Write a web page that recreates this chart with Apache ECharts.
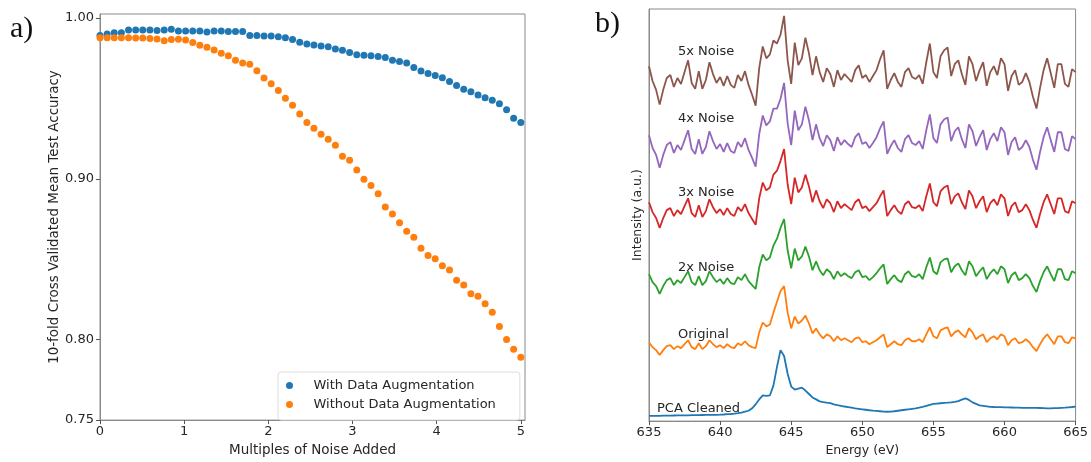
<!DOCTYPE html>
<html>
<head>
<meta charset="utf-8">
<script src="https://cdn.jsdelivr.net/npm/echarts@6/dist/echarts.min.js"></script>
<style>html,body{margin:0;padding:0;background:#fff;}#chart{width:1091px;height:462px;}</style>
</head>
<body>
<div id="chart"></div>
<script>
// ---------- panel a) ----------
const noiseMultiples = [0,0.085,0.169,0.254,0.339,0.424,0.508,0.593,0.678,0.763,0.847,0.932,1.017,1.102,1.186,1.271,1.356,1.441,1.525,1.610,1.695,1.780,1.864,1.949,2.034,2.119,2.203,2.288,2.373,2.458,2.542,2.627,2.712,2.797,2.881,2.966,3.051,3.136,3.220,3.305,3.390,3.475,3.559,3.644,3.729,3.814,3.898,3.983,4.068,4.153,4.237,4.322,4.407,4.492,4.576,4.661,4.746,4.831,4.915,5.000];
const withAug = [0.9892,0.9901,0.9909,0.9909,0.9925,0.9925,0.9925,0.9925,0.9923,0.9925,0.9930,0.9920,0.9920,0.9920,0.9920,0.9913,0.9920,0.9920,0.9916,0.9916,0.9916,0.9892,0.9892,0.9888,0.9888,0.9884,0.9878,0.9867,0.9849,0.9838,0.9833,0.9826,0.9821,0.9808,0.9799,0.9786,0.9772,0.9768,0.9766,0.9761,0.9754,0.9738,0.9729,0.9720,0.9693,0.9670,0.9655,0.9642,0.9628,0.9606,0.9581,0.9557,0.9541,0.9522,0.9504,0.9489,0.9467,0.9430,0.9377,0.9351];
const withoutAug = [0.9877,0.9878,0.9878,0.9877,0.9877,0.9876,0.9875,0.9873,0.9870,0.9858,0.9866,0.9868,0.9864,0.9848,0.9830,0.9818,0.9801,0.9781,0.9765,0.9737,0.9720,0.9712,0.9672,0.9627,0.9591,0.9550,0.9501,0.9457,0.9404,0.9351,0.9315,0.9278,0.9246,0.9209,0.9140,0.9116,0.9055,0.8998,0.8958,0.8907,0.8825,0.8781,0.8727,0.8674,0.8637,0.8569,0.8524,0.8504,0.8460,0.8434,0.8370,0.8340,0.8285,0.8270,0.8224,0.8171,0.8082,0.8001,0.7940,0.7891];
const accTicks = [0.75,0.80,0.90,1.00];
const multTicks = [0,1,2,3,4,5];
const seriesNamesA = ['With Data Augmentation','Without Data Augmentation'];

// ---------- panel b) ----------
const energy = [635,635.25,635.5,635.75,636,636.25,636.5,636.75,637,637.25,637.5,637.75,638,638.25,638.5,638.75,639,639.25,639.5,639.75,640,640.25,640.5,640.75,641,641.25,641.5,641.75,642,642.25,642.5,642.75,643,643.25,643.5,643.75,644,644.25,644.5,644.75,645,645.25,645.5,645.75,646,646.25,646.5,646.75,647,647.25,647.5,647.75,648,648.25,648.5,648.75,649,649.25,649.5,649.75,650,650.25,650.5,650.75,651,651.25,651.5,651.75,652,652.25,652.5,652.75,653,653.25,653.5,653.75,654,654.25,654.5,654.75,655,655.25,655.5,655.75,656,656.25,656.5,656.75,657,657.25,657.5,657.75,658,658.25,658.5,658.75,659,659.25,659.5,659.75,660,660.25,660.5,660.75,661,661.25,661.5,661.75,662,662.25,662.5,662.75,663,663.25,663.5,663.75,664,664.25,664.5,664.75,665];
const pcaCleaned = [5.3,5.3,5.4,5.4,5.5,5.6,5.6,5.7,5.8,5.8,5.9,5.9,6.0,6.1,6.1,6.2,6.3,6.3,6.4,6.4,6.5,6.7,7.0,7.2,7.5,8.0,8.7,9.5,10.5,13,17,22,26,25.5,26,36,55,72,66,48,35,32,33,34,31,27.5,24,22,20,19.3,18.7,18.2,17,16.2,15.5,14.8,14.2,13.6,13,12.5,12,11.5,11,10.6,10.3,10,9.7,9.5,9.7,10,10.5,11,11.5,12,12.5,13,13.7,14.5,15.5,16.5,17.5,17.8,18.1,18.4,18.7,19.1,19.6,20.3,21.8,23,21.5,19,17.5,16,15.5,15,14.5,14.3,14.2,14.1,14,13.9,13.8,13.7,13.6,13.5,13.5,13.5,13.5,13.4,13.3,13.2,13,13,13.1,13.2,13.5,13.7,14,14.3,14.7];
const original = [80,75,72,67,72,76,77,73,76,74,78,82,75,73,79,73,76,82,78,75,77,74,78,75,74,79,77,81,77,75,74,90,100,96,98,110,121,132,137,110,94,106,99,102,107,99,89,94,88,84,88,86,81,86,82,84,82,80,84,85,80,81,78,80,82,85,88,75,78,81,78,77,82,84,81,81,83,80,88,95,86,84,92,94,95,86,90,92,88,85,94,90,83,86,88,80,84,86,83,88,86,77,82,84,79,80,83,80,75,71,78,84,88,83,78,86,86,80,79,85,84];
const noise2x = [149,141,137,129,137,143,145,138,143,140,146,152,141,138,147,138,142,152,146,141,144,139,145,140,139,146,143,149,142,138,134,156,169,163,166,178,185,196,205,173,155,175,163,167,177,167,153,162,153,148,154,151,144,152,147,150,147,145,151,153,146,147,143,146,150,155,159,139,144,148,143,141,149,152,147,146,149,144,156,166,152,149,161,164,165,151,157,160,153,148,162,157,147,152,156,144,150,154,149,157,154,140,148,151,143,145,149,145,137,131,142,151,157,149,142,154,154,144,143,152,150];
const noise3x = [222,212,206,196,206,214,216,208,214,210,218,226,211,207,219,207,213,225,217,211,215,209,216,210,208,217,213,220,211,205,199,226,242,234,237,250,254,264,276,240,220,247,232,237,250,238,222,234,223,216,225,221,212,223,216,220,217,214,222,225,216,218,213,217,221,228,234,208,214,219,213,210,220,223,217,216,219,213,228,241,222,218,233,237,239,220,228,231,222,215,234,228,216,223,228,212,221,225,219,230,226,208,218,222,212,214,220,214,204,196,210,222,230,220,210,226,226,213,211,223,221];
const noise4x = [290,277,270,257,270,280,283,272,280,275,285,295,276,271,286,271,278,294,284,276,281,273,282,274,272,283,278,287,275,267,258,291,310,300,304,317,317,327,343,302,280,315,295,301,319,305,285,301,287,279,290,285,274,288,280,285,281,278,288,292,281,283,277,282,288,297,304,271,279,285,277,273,286,290,282,280,284,276,295,311,287,282,301,306,308,284,294,298,286,277,301,294,279,288,295,275,286,292,284,298,293,270,283,288,275,278,285,278,265,255,273,288,298,285,273,293,293,276,274,289,286];
const noise5x = [360,345,336,321,336,348,351,339,348,342,354,366,343,337,355,337,346,364,352,343,349,340,350,341,338,351,345,355,341,331,320,358,380,368,372,386,383,392,411,366,342,384,361,368,389,373,351,370,354,344,358,352,339,356,346,352,348,344,356,361,348,351,344,350,356,367,376,337,346,353,344,339,354,358,349,347,351,342,364,383,354,348,370,376,379,350,362,366,352,341,370,362,345,356,364,340,354,360,351,368,362,335,350,356,341,344,353,344,329,317,338,356,368,353,338,362,362,342,339,357,354];
const traceNames = ['PCA Cleaned','Original','2x Noise','3x Noise','4x Noise','5x Noise'];
const traceData = [pcaCleaned, original, noise2x, noise3x, noise4x, noise5x];

const tab = ['#1f77b4','#ff7f0e','#2ca02c','#d62728','#9467bd','#8c564b'];
const FONT = '"DejaVu Sans", sans-serif';
const frame = '#8a8a8a', txt = '#262626';

const chart = echarts.init(document.getElementById('chart'), null, {renderer:'canvas'});

const scatterSeries = [withAug, withoutAug].map((arr, s) => ({
  name: seriesNamesA[s], type: 'scatter', xAxisIndex: 0, yAxisIndex: 0,
  symbol: 'circle', symbolSize: 7,
  itemStyle: {color: tab[s], opacity: 1},
  data: noiseMultiples.map((x, i) => [x, arr[i]])
}));
const lineSeries = traceData.map((arr, t) => ({
  name: traceNames[t], type: 'line', xAxisIndex: 1, yAxisIndex: 1,
  showSymbol: false, symbol: 'none',
  lineStyle: {color: tab[t], width: 1.8},
  data: energy.map((e, i) => [e, arr[i]])
}));

function axisCommon(fs) {
  return {
    axisLine: {show: true, onZero: false, lineStyle: {color: frame, width: 1}},
    splitLine: {show: false},
    nameTextStyle: {fontSize: fs, color: txt, fontFamily: FONT}
  };
}

const labelTexts = [
  ['5x Noise', 678, 52], ['4x Noise', 678, 119], ['3x Noise', 678, 193],
  ['2x Noise', 678, 268], ['Original', 678, 335], ['PCA Cleaned', 657, 409]
];

chart.setOption({
  animation: false,
  backgroundColor: '#ffffff',
  textStyle: {fontFamily: FONT},
  grid: [
    {left: 100, top: 14, width: 425, height: 415, show: true, borderColor: frame, borderWidth: 1},
    {left: 649, top: 9, width: 431, height: 418, show: true, borderColor: frame, borderWidth: 1}
  ],
  xAxis: [
    Object.assign(axisCommon(13.5), {
      type: 'value', gridIndex: 0, min: 0, max: 5.05,
      axisTick: {show: true, length: 4, customValues: multTicks, lineStyle: {color: '#555'}},
      axisLabel: {customValues: multTicks, color: txt, fontSize: 13, margin: 5, fontFamily: FONT},
      name: 'Multiples of Noise Added', nameLocation: 'middle', nameGap: 19
    }),
    Object.assign(axisCommon(12.5), {
      type: 'value', gridIndex: 1, min: 635, max: 665, interval: 5,
      axisTick: {show: true, length: 4, lineStyle: {color: '#555'}},
      axisLabel: {color: txt, fontSize: 13, margin: 5, fontFamily: FONT},
      name: 'Energy (eV)', nameLocation: 'middle', nameGap: 20
    })
  ],
  yAxis: [
    Object.assign(axisCommon(13.5), {
      type: 'value', gridIndex: 0, min: 0.75, max: 1.0025,
      axisTick: {show: true, length: 4, customValues: accTicks, lineStyle: {color: '#555'}},
      axisLabel: {customValues: accTicks, color: txt, fontSize: 13, margin: 6, fontFamily: FONT,
                  formatter: v => v.toFixed(2)},
      name: '10-fold Cross Validated Mean Test Accuracy', nameLocation: 'middle', nameGap: 36
    }),
    Object.assign(axisCommon(12.5), {
      type: 'value', gridIndex: 1, min: 0, max: 418,
      axisTick: {show: false}, axisLabel: {show: false},
      name: 'Intensity (a.u.)', nameLocation: 'middle', nameGap: 5
    })
  ],
  legend: {
    data: seriesNamesA, left: 278, top: 372, orient: 'vertical',
    icon: 'circle', itemWidth: 20, itemHeight: 7, itemGap: 6,
    padding: [7, 24, 9, 8], backgroundColor: '#ffffff',
    borderColor: '#dddddd', borderWidth: 1, borderRadius: 3,
    textStyle: {fontSize: 13, color: txt, fontFamily: FONT, padding: [0, 0, 0, 9]}
  },
  graphic: [
    {type: 'text', left: 10, top: 14, style: {text: 'a)', font: '30px "Liberation Serif", serif', fill: '#111'}},
    {type: 'text', left: 595, top: 9, style: {text: 'b)', font: '30px "Liberation Serif", serif', fill: '#111'}}
  ].concat(labelTexts.map(l => ({
    type: 'text', x: l[1], y: l[2],
    style: {text: l[0], font: '13px "DejaVu Sans", sans-serif', fill: txt, align: 'left', verticalAlign: 'middle'}
  }))),
  series: scatterSeries.concat(lineSeries)
});
</script>
</body>
</html>
